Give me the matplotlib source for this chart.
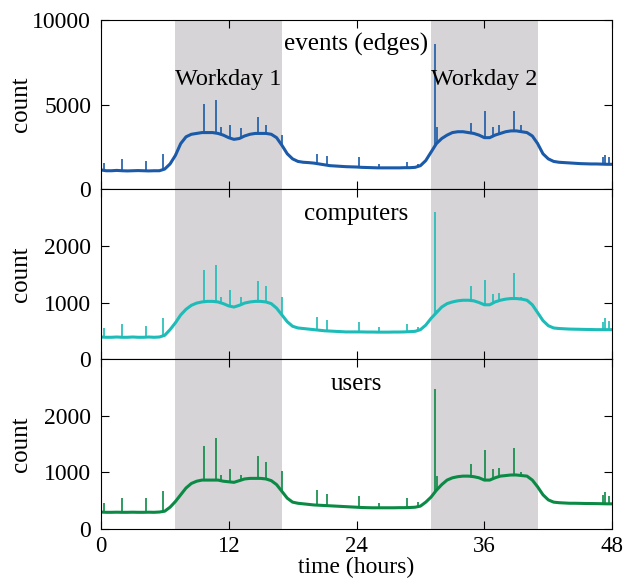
import numpy as np
import matplotlib
matplotlib.use('Agg')
import matplotlib.pyplot as plt

plt.rcParams['font.family'] = ['Liberation Serif', 'DejaVu Serif']

# half-hour samples, 0 .. 48 h
hours = np.arange(0, 48.5, 0.5)

events = [1150, 1100, 1100, 1120, 1100, 1090, 1100, 1110, 1100, 1090, 1100, 1100,
          1200, 1500, 2000, 2700, 3100, 3250, 3300, 3350, 3350, 3350, 3300, 3200,
          3050, 2950, 3000, 3150, 3250, 3300, 3300, 3300, 3250, 3050, 2600, 2100,
          1800, 1650, 1600, 1580, 1550, 1500, 1450, 1400, 1380, 1360, 1340, 1330,
          1320, 1300, 1290, 1280, 1270, 1270, 1270, 1270, 1270, 1280, 1280, 1300,
          1400, 1700, 2200, 2700, 3000, 3200, 3350, 3400, 3400, 3350, 3300, 3200,
          3050, 3050, 3200, 3300, 3400, 3450, 3450, 3400, 3350, 3150, 2700, 2100,
          1800, 1650, 1600, 1580, 1560, 1540, 1520, 1510, 1500, 1500, 1490, 1480,
          1480]

computers = [390, 385, 385, 390, 385, 385, 390, 385, 385, 390, 385, 390,
             420, 520, 640, 780, 880, 950, 990, 1010, 1020, 1020, 1010, 980,
             940, 920, 950, 990, 1010, 1020, 1020, 1010, 980, 900, 780, 660,
             580, 550, 540, 530, 520, 510, 500, 495, 490, 485, 480, 480,
             480, 480, 478, 478, 476, 476, 476, 478, 478, 480, 485, 490,
             520, 600, 720, 820, 920, 980, 1010, 1030, 1040, 1040, 1030, 1000,
             960, 960, 1010, 1040, 1060, 1070, 1070, 1060, 1040, 960, 820, 680,
             590, 550, 540, 535, 530, 528, 526, 524, 522, 520, 520, 520,
             520]

users = [295, 290, 290, 292, 290, 290, 292, 290, 290, 292, 290, 295,
         310, 380, 480, 600, 720, 800, 840, 860, 860, 860, 860, 840,
         830, 820, 850, 880, 890, 890, 890, 880, 850, 780, 660, 540,
         470, 450, 440, 430, 420, 415, 410, 405, 400, 395, 390, 385,
         380, 375, 372, 370, 370, 370, 370, 370, 372, 372, 375, 380,
         400, 470, 560, 680, 780, 860, 900, 920, 930, 930, 920, 900,
         860, 860, 900, 930, 940, 950, 950, 940, 930, 860, 740, 600,
         510, 470, 460, 455, 450, 450, 448, 446, 445, 444, 442, 440,
         440]

# short bursts seen on top of the curves
spike_hours = [0.3, 2.0, 4.2, 5.8, 9.67, 10.77, 11.3, 12.1, 13.2, 14.8, 15.5, 17.05,
               20.3, 21.2, 24.2, 26.1, 28.7, 29.8, 31.36, 31.6, 34.7, 36.1, 36.8,
               37.4, 38.75, 39.4, 47.1, 47.3, 47.7]
events_spikes = [1530, 1800, 1700, 2060, 5060, 5250, 3700, 3800, 3600, 4270, 3820, 3230,
                 2060, 1950, 1900, 1500, 1600, 1500, 8560, 3700, 3920, 4650, 3700,
                 3800, 4650, 3800, 1900, 2000, 1900]
computers_spikes = [556, 620, 590, 720, 1570, 1670, 1100, 1215, 1100, 1375, 1300, 1090,
                    750, 696, 660, 560, 620, 560, 2600, 865, 1300, 1400, 1150,
                    1170, 1530, 1100, 650, 720, 670]
users_spikes = [447, 547, 547, 665, 1470, 1606, 950, 1060, 950, 1283, 1177, 1018,
                683, 618, 580, 450, 545, 470, 2470, 930, 1147, 1400, 1060,
                1070, 1430, 1000, 600, 648, 570]

workdays = [(7, 17), (31, 41)]

panels = [
    ('events (edges)', events, events_spikes, '#1a5aa8', 10000, [0, 5000, 10000]),
    ('computers', computers, computers_spikes, '#1dbcb8', 3000, [0, 1000, 2000]),
    ('users', users, users_spikes, '#0b8a45', 3000, [0, 1000, 2000]),
]

fig, axes = plt.subplots(3, 1, sharex=True, figsize=(6.26, 5.81), dpi=100)
fig.subplots_adjust(left=0.161, right=0.978, top=0.966, bottom=0.09, hspace=0)

for ax, (name, base, spikes, color, ymax, yt) in zip(axes, panels):
    for a, b in workdays:
        ax.axvspan(a, b, color='#d6d4d6', lw=0, zorder=0)
    ax.plot(hours, base, color=color, lw=2.2, zorder=2)
    foot = np.interp(spike_hours, hours, base)
    ax.vlines(spike_hours, foot, spikes, color=color, lw=1.2, zorder=2)
    ax.set_ylim(0, ymax)
    ax.set_yticks(yt)
    ax.set_ylabel('count', fontsize=18)
    ax.yaxis.set_label_coords(-0.135, 0.5)
    ax.text(24, ymax * 0.855, name, ha='center', va='center', fontsize=18)
    ax.tick_params(direction='in', top=True, right=True, labelsize=17, length=6)
    ax.tick_params(axis='y', pad=7)
    ax.tick_params(axis='x', pad=5, labelsize=16.5)

axes[0].text(12, 6500, 'Workday 1', ha='center', va='center', fontsize=17.5)
axes[0].text(36, 6500, 'Workday 2', ha='center', va='center', fontsize=17.5)

axes[-1].set_xlim(0, 48)
axes[-1].set_xticks([0, 12, 24, 36, 48])
axes[-1].set_xlabel('time (hours)', fontsize=17, labelpad=0)

plt.savefig('out.png', dpi=100)
